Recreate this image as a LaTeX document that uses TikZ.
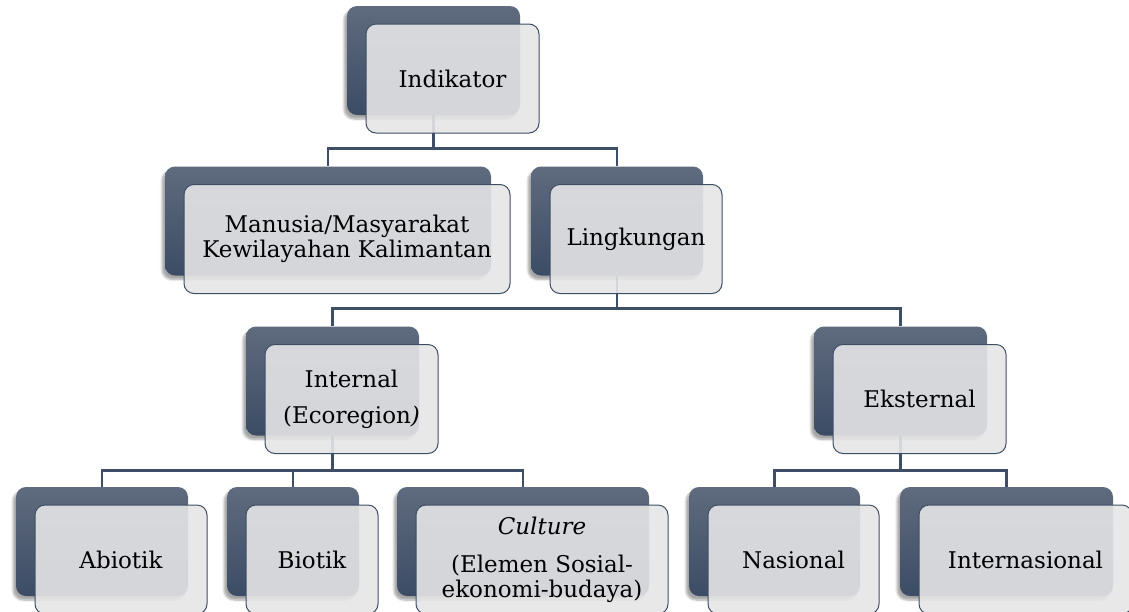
\documentclass[tikz,border=0pt]{standalone}
\usepackage{fontspec}
\setmainfont{DejaVu Serif}
\usetikzlibrary{shadows.blur}

\definecolor{cardtop}{RGB}{95,107,126}
\definecolor{cardbottom}{RGB}{60,76,101}
\definecolor{cardpale}{RGB}{229,229,230}
\definecolor{linkcol}{RGB}{62,78,101}

\pgfdeclarelayer{background}
\pgfsetlayers{background,main}

\tikzset{
  backcard/.style={rounded corners=10pt, minimum height=109pt, minimum width=#1,
    top color=cardtop, bottom color=cardbottom,
    blur shadow={shadow xshift=-3pt, shadow yshift=-4pt, shadow opacity=35, shadow blur steps=6}},
  frontcard/.style={rounded corners=10pt, minimum height=109pt, minimum width=#1,
    draw=linkcol, line width=1pt, fill=cardpale, fill opacity=0.9, text opacity=1,
    align=center, font=\fontsize{23}{25}\selectfont},
  link/.style={draw=linkcol, line width=2.6pt}
}

\begin{document}
\begin{tikzpicture}[x=1pt, y=-1pt]
  \useasboundingbox (0,0) rectangle (1129,611);

  % level 1
  \node[backcard=173pt] (indB) at (433.5,60.5) {};
  \node[frontcard=173pt] (ind) at ([shift={(19,18)}]indB.center) {Indikator};

  % level 2
  \node[backcard=326pt] (manB) at (328,221) {};
  \node[frontcard=326pt] (man) at ([shift={(19,18)}]manB.center) {Manusia/Masyarakat\\Kewilayahan Kalimantan};
  \node[backcard=172pt] (linB) at (617,221) {};
  \node[frontcard=172pt] (lin) at ([shift={(19,18)}]linB.center) {Lingkungan};

  % level 3
  \node[backcard=173pt] (intB) at (332.5,381) {};
  \node[frontcard=173pt] (int) at ([shift={(19,18)}]intB.center) {Internal\\[11pt](Ecoregion\textit{)}};
  \node[backcard=173pt] (ekB) at (900.5,381) {};
  \node[frontcard=173pt] (ek) at ([shift={(19,18)}]ekB.center) {Eksternal};

  % level 4
  \node[backcard=172pt] (abB) at (102,541.5) {};
  \node[frontcard=172pt] (ab) at ([shift={(19,18)}]abB.center) {Abiotik};
  \node[backcard=132pt] (biB) at (293,541.5) {};
  \node[frontcard=132pt] (bi) at ([shift={(19,18)}]biB.center) {Biotik};
  \node[backcard=252pt] (cuB) at (523,541.5) {};
  \node[frontcard=252pt] (cu) at ([shift={(19,18)}]cuB.center) {\textit{Culture}\\[13pt](Elemen Sosial-\\ekonomi-budaya)};
  \node[backcard=171pt] (naB) at (774.5,541.5) {};
  \node[frontcard=171pt] (na) at ([shift={(19,18)}]naB.center) {Nasional};
  \node[backcard=213pt] (inaB) at (1006.5,541.5) {};
  \node[frontcard=213pt] (ina) at ([shift={(19,18)}]inaB.center) {Internasional};

  % connectors
  \begin{pgfonlayer}{background}
    \draw[link] (indB.south) -- ++(0,33) -| (manB.north);
    \draw[link] (indB.south) -- ++(0,33) -| (linB.north);
    \draw[link] (linB.south) -- ++(0,33) -| (intB.north);
    \draw[link] (linB.south) -- ++(0,33) -| (ekB.north);
    \draw[link] (intB.south) -- ++(0,35) -| (abB.north);
    \draw[link] (intB.south) -- ++(0,35) -| (biB.north);
    \draw[link] (intB.south) -- ++(0,35) -| (cuB.north);
    \draw[link] (ekB.south) -- ++(0,35) -| (naB.north);
    \draw[link] (ekB.south) -- ++(0,35) -| (inaB.north);
  \end{pgfonlayer}
\end{tikzpicture}
\end{document}
